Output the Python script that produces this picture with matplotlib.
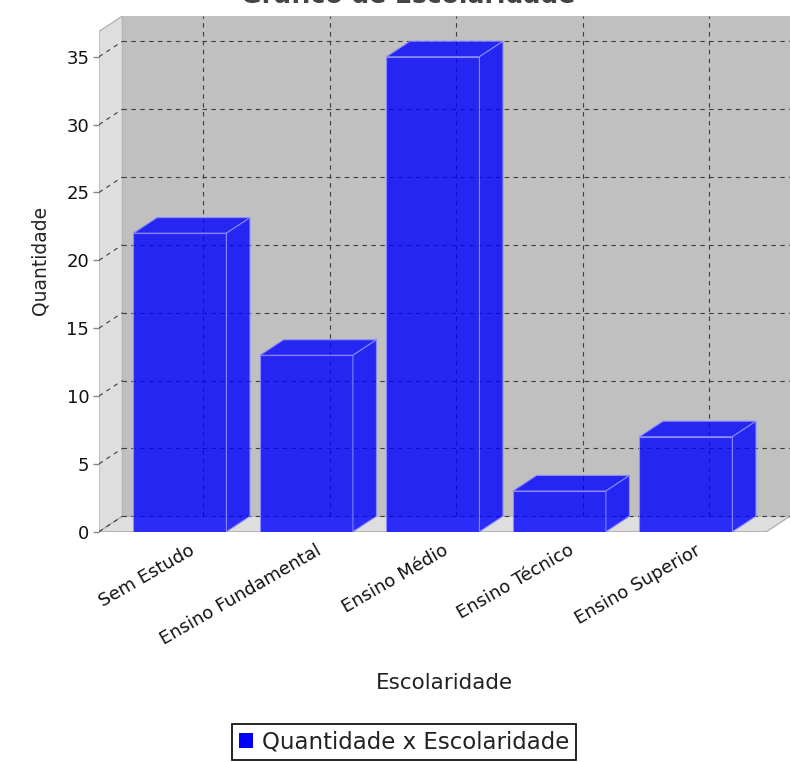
import matplotlib
matplotlib.use('Agg')
import matplotlib.pyplot as plt
from matplotlib.patches import Polygon, Rectangle, Patch
import matplotlib.transforms as mtransforms

# ---- data ----
categories = ['Sem Estudo', 'Ensino Fundamental', 'Ensino Médio', 'Ensino Técnico', 'Ensino Superior']
values = [22, 13, 35, 3, 7]
yticks = [0, 5, 10, 15, 20, 25, 30, 35]
series_name = 'Quantidade x Escolaridade'
title = 'Gráfico de Escolaridade'
xlabel = 'Escolaridade'
ylabel = 'Quantidade'

# ---- geometry (3D look) ----
W, H = 790, 762
PX_CAT = 126.5      # pixels per category
PX_VAL = 13.57      # pixels per value unit
dx = 23.5 / PX_CAT  # depth offset in category units
dy = 15.5 / PX_VAL  # depth offset in value units
xmin = -0.64
ax_left, ax_right = 99, 790
ax_bottom_px, ax_top_px = 531.7, 16
xmax = xmin + (ax_right - ax_left) / PX_CAT
ymax = (ax_bottom_px - ax_top_px) / PX_VAL
bar_w = 93 / PX_CAT

fig = plt.figure(figsize=(W / 100, H / 100), dpi=100)
ax = fig.add_axes([ax_left / W, (H - ax_bottom_px) / H,
                   (ax_right - ax_left) / W, (ax_bottom_px - ax_top_px) / H])
ax.set_xlim(xmin, xmax)
ax.set_ylim(0, ymax)
for s in ax.spines.values():
    s.set_visible(False)
ax.patch.set_visible(False)

wall_edge = '#b4b4b4'
# back wall
ax.add_patch(Rectangle((xmin + dx, dy), xmax - xmin - dx, ymax - dy,
                       facecolor='#c0c0c0', edgecolor='none', zorder=0))
# left wall
ax.add_patch(Polygon([(xmin, 0), (xmin, ymax - dy), (xmin + dx, ymax), (xmin + dx, dy)],
                     closed=True, facecolor='#dedede', edgecolor=wall_edge, lw=1, zorder=1))
# floor
ax.add_patch(Polygon([(xmin, 0), (xmax - dx, 0), (xmax, dy), (xmin + dx, dy)],
                     closed=True, facecolor='#dedede', edgecolor=wall_edge, lw=1, zorder=1))

grid_kw = dict(color='#3c3c3c', lw=0.8, ls=(0, (4, 4)), zorder=2)
for v in yticks:
    ax.plot([xmin + dx, xmax], [v + dy, v + dy], **grid_kw)
    ax.plot([xmin, xmin + dx], [v, v + dy], **grid_kw)
for i in range(len(categories)):
    ax.plot([i + dx, i + dx], [dy, ymax], **grid_kw)

bar_color = (0, 0, 1, 0.8)
edge_color = (0.55, 0.55, 1.0, 0.9)
for i, v in enumerate(values):
    l, r = i - bar_w / 2, i + bar_w / 2
    front = Rectangle((l, 0), bar_w, v, facecolor=bar_color, edgecolor=edge_color, lw=0.8, zorder=3)
    ax.add_patch(front)
    top = Polygon([(l, v), (l + dx, v + dy), (r + dx, v + dy), (r, v)], closed=True,
                  facecolor=bar_color, edgecolor=edge_color, lw=0.8, zorder=3)
    side = Polygon([(r, 0), (r + dx, dy), (r + dx, v + dy), (r, v)], closed=True,
                   facecolor=bar_color, edgecolor=edge_color, lw=0.8, zorder=3)
    ax.add_patch(top)
    ax.add_patch(side)

# y axis ticks
ax.set_yticks(yticks)
ax.set_yticklabels([str(t) for t in yticks])
ax.tick_params(axis='y', length=4, width=1, color='#888888', direction='out', pad=3,
               labelsize=13, labelcolor='#111111')

# category labels
ax.set_xticks(range(len(categories)))
ax.set_xticklabels(categories)
ax.tick_params(axis='x', length=0, pad=7, labelsize=13, labelcolor='#111111')
offset = mtransforms.ScaledTranslation(9 / 100, 0, fig.dpi_scale_trans)
for lab in ax.get_xticklabels():
    lab.set_rotation(30)
    lab.set_ha('right')
    lab.set_va('top')
    lab.set_rotation_mode('anchor')
    lab.set_transform(lab.get_transform() + offset)

fig.text(444 / W, 1 - 683 / H, xlabel, ha='center', va='center', fontsize=15.5, color='#222222')
fig.text(40 / W, 1 - 260 / H, ylabel, ha='center', va='center', rotation=90, fontsize=13.5,
         color='#222222')
fig.text(408 / W, 1 - 3 / H, title, ha='center', va='baseline', fontsize=18,
         fontweight='bold', color='#444444')

handle = Patch(facecolor='#0000ff', edgecolor='none')
leg = fig.legend([handle], [series_name], loc='center', bbox_to_anchor=(404 / W, 1 - 742 / H),
                 fontsize=16.5, frameon=True, fancybox=False, framealpha=1,
                 handlelength=0.6, handleheight=0.6,
                 handletextpad=0.4, borderpad=0.3, borderaxespad=0)
leg.get_frame().set_edgecolor('black')
leg.get_frame().set_linewidth(1.2)
for t in leg.get_texts():
    t.set_color('#222222')

fig.savefig('out.png', dpi=100)
